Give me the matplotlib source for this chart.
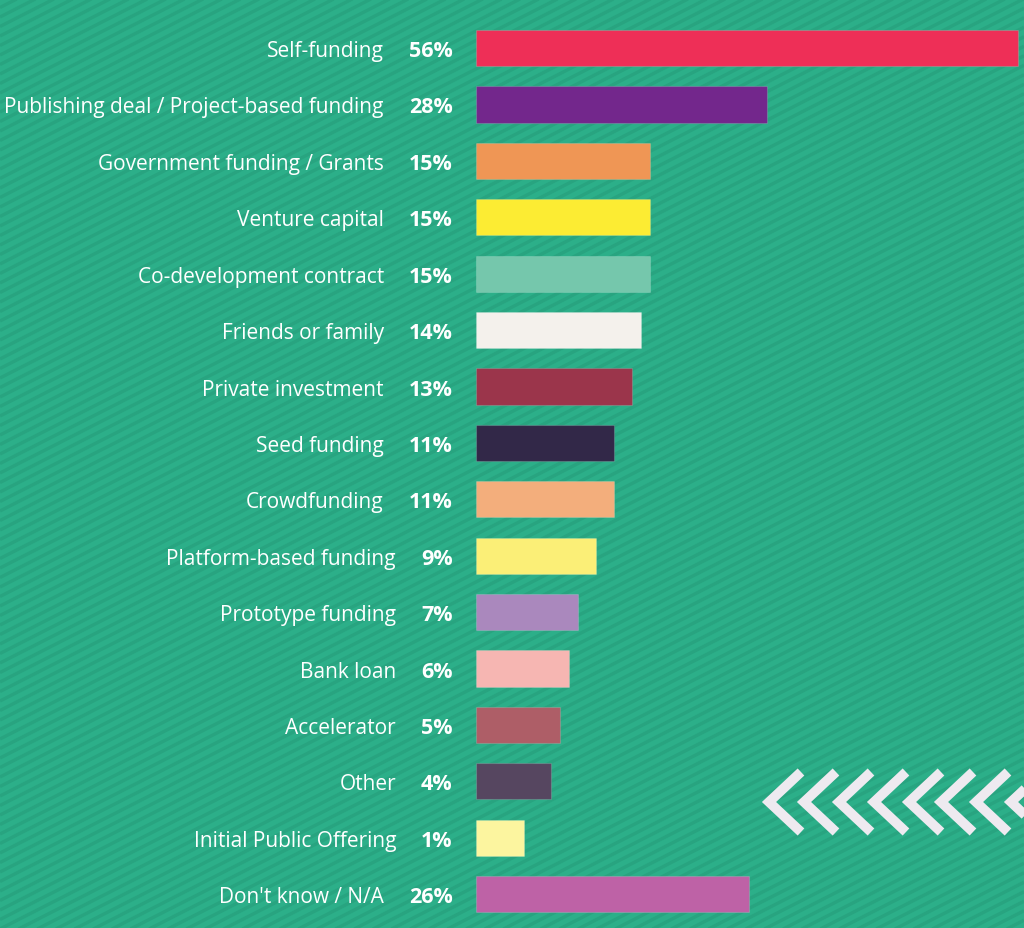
import numpy as np
import matplotlib
matplotlib.use("Agg")
import matplotlib.pyplot as plt

# data
categories = ["Self-funding", "Publishing deal / Project-based funding",
              "Government funding / Grants", "Venture capital",
              "Co-development contract", "Friends or family",
              "Private investment", "Seed funding", "Crowdfunding",
              "Platform-based funding", "Prototype funding", "Bank loan",
              "Accelerator", "Other", "Initial Public Offering",
              "Don't know / N/A"]
values = [56, 28, 15, 15, 15, 14, 13, 11, 11, 9, 7, 6, 5, 4, 1, 26]
colors = ["#EE2F57", "#73278C", "#EF9655", "#FCEC33", "#75C7AC", "#F4F1EC",
          "#9B354B", "#322848", "#F3AE7C", "#FBEF77", "#AA88BD", "#F6B6B2",
          "#AE5E67", "#564660", "#FCF59F", "#BE62A6"]

BG = "#2CAF89"
STRIPE = "#28A480"
bar_base = -4.4   # bars start a bit left of zero

plt.rcParams['font.family'] = ['Open Sans', 'DejaVu Sans']

fig = plt.figure(figsize=(10.24, 9.29), dpi=100)
fig.patch.set_facecolor(BG)

# background stripes + chevrons, in pixel units
bg = fig.add_axes([0, 0, 1, 1], zorder=0)
bg.set_xlim(0, 1024)
bg.set_ylim(929, 0)
bg.axis('off')
slope = np.tan(np.radians(27))
for c in np.arange(-20, 929 + 1024 * slope + 20, 9.5):
    bg.plot([0, 1024], [c, c - 1024 * slope], color=STRIPE, lw=2.4,
            solid_capstyle='butt')

tips = [765, 800, 835, 870, 905, 937, 972, 1007]
for t in tips:
    bg.plot([t + 36, t + 4, t + 36], [773, 803, 833], color="#EEEAF0",
            lw=7, solid_joinstyle='miter', solid_capstyle='butt')

# main chart
ax = fig.add_axes([0, 0, 1, 1], zorder=1)
ax.patch.set_alpha(0)
ax.axis('off')
y = np.arange(len(values))
ax.barh(y, [v - bar_base for v in values], left=bar_base, height=0.64,
        color=colors, edgecolor=(1, 1, 1, 0.15), linewidth=0.8)
ax.set_xlim(-57.4, 56.64)
ax.set_ylim(15.6, -0.87)

for i, (cat, v) in enumerate(zip(categories, values)):
    pct = ax.text(-7.0, i, f"{v}%", ha='right', va='center_baseline',
                  color='white', fontsize=15.5, fontweight='bold')
    ax.annotate(cat, xy=(0, 0.5), xycoords=pct, xytext=(-25, 0),
                textcoords='offset pixels', ha='right', va='center',
                color='white', fontsize=15.0)

fig.savefig("out.png", dpi=100, facecolor=BG)
